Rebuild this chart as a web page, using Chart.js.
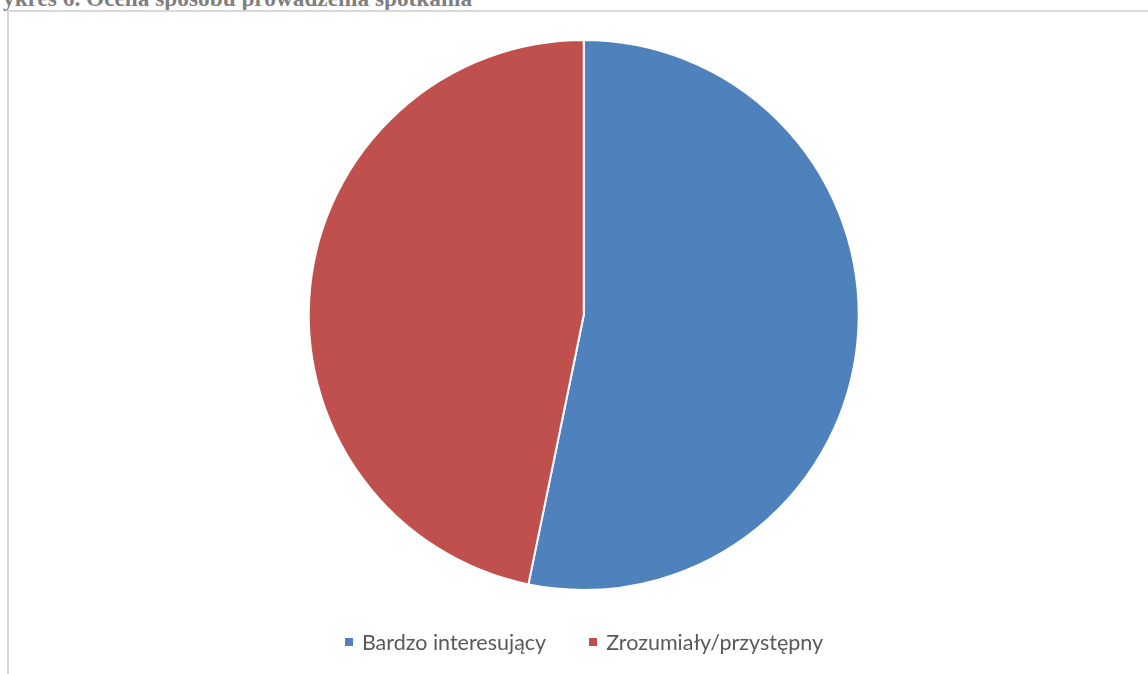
<!DOCTYPE html>
<html>
<head>
<meta charset="utf-8">
<script src="https://cdn.jsdelivr.net/npm/chart.js@4"></script>
<style>
  html, body { margin: 0; padding: 0; background: #fff; }
  body { width: 1148px; height: 674px; position: relative; overflow: hidden; }
  .title {
    position: absolute; left: 3px; top: -15px;
    font-family: "Liberation Serif", "DejaVu Serif", serif;
    font-weight: bold; font-size: 23.3px; line-height: 26px; color: #7f7f7f; white-space: nowrap;
  }
  .frame {
    position: absolute; left: 7px; top: 10px; right: -2px; bottom: -2px;
    border-top: 2px solid #d9d9d9; border-left: 2px solid #d9d9d9;
  }
  .chart-box { position: absolute; left: 0; top: 0; width: 1148px; height: 674px; }
  .legend {
    position: absolute; left: 10px; width: 1148px; top: 629px;
    display: flex; justify-content: center; gap: 43px;
    font-family: Lato, "Noto Sans", sans-serif; font-size: 21.5px; color: #595959;
  }
  .legend-item { display: flex; align-items: center; gap: 9px; }
  .legend-swatch { width: 8px; height: 8px; display: inline-block; }
</style>
</head>
<body>
<div class="title">ykres 6. Ocena sposobu prowadzenia spotkania</div>
<div class="frame"></div>
<div class="chart-box"><canvas id="pie" width="1148" height="674"></canvas></div>
<div class="legend" id="legend"></div>
<script>
const categories = ['Bardzo interesujący', 'Zrozumiały/przystępny']
const values = [33, 29]
const colors = ['#4f81bd', '#c0504d']

const legend = document.getElementById('legend')
categories.forEach((name, i) => {
  const item = document.createElement('div')
  item.className = 'legend-item'
  const sw = document.createElement('span')
  sw.className = 'legend-swatch'
  sw.style.background = colors[i]
  const txt = document.createElement('span')
  txt.textContent = name
  item.appendChild(sw)
  item.appendChild(txt)
  legend.appendChild(item)
})

new Chart(document.getElementById('pie'), {
  type: 'pie',
  data: {
    labels: categories,
    datasets: [{
      data: values,
      backgroundColor: colors,
      borderColor: '#ffffff',
      borderWidth: 2
    }]
  },
  options: {
    responsive: false,
    animation: false,
    layout: { padding: { top: 39, bottom: 83, left: 307.75, right: 288.25 } },
    plugins: {
      legend: { display: false },
      tooltip: { enabled: false }
    }
  }
})
</script>
</body>
</html>
